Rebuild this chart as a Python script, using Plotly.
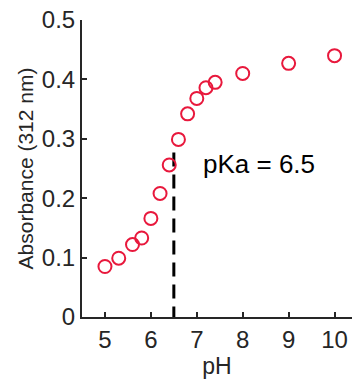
import plotly.graph_objects as go

pH = [5.0, 5.3, 5.6, 5.8, 6.0, 6.2, 6.4, 6.6, 6.8, 7.0, 7.2, 7.4, 8.0, 9.0, 10.0]
absorbance = [0.085, 0.099, 0.122, 0.133, 0.166, 0.208, 0.256, 0.299, 0.342, 0.368, 0.386, 0.395, 0.410, 0.427, 0.440]
pKa = 6.5
pKa_line_y = [0.277, 0.0]
x_ticks = [5, 6, 7, 8, 9, 10]
y_ticks = [0, 0.1, 0.2, 0.3, 0.4, 0.5]
y_tick_labels = ["0", "0.1", "0.2", "0.3", "0.4", "0.5"]

axis_color = "#262626"
font_family = "Liberation Sans, Arial, sans-serif"

fig = go.Figure()
fig.add_trace(go.Scatter(
    x=[pKa, pKa], y=pKa_line_y, mode="lines",
    line=dict(color="black", width=3, dash="14px,8px"),
    showlegend=False, hoverinfo="skip"))
fig.add_trace(go.Scatter(
    x=pH, y=absorbance, mode="markers",
    marker=dict(symbol="circle-open", size=13, color="#e8183c", line=dict(width=2, color="#e8183c")),
    showlegend=False))

fig.add_annotation(x=7.09, y=0.257, xref="x", yref="y", text="pKa = 6.5",
                   showarrow=False, xanchor="left", yanchor="middle",
                   font=dict(size=26, color="black", family=font_family))

fig.update_layout(
    width=352, height=379,
    margin=dict(l=82, r=0, t=20, b=62),
    paper_bgcolor="white", plot_bgcolor="white",
    font=dict(family=font_family, size=24, color=axis_color),
    xaxis=dict(range=[4.5, 10.38], tickvals=x_ticks, ticks="inside", ticklen=5,
               tickwidth=1.5, tickcolor=axis_color, showline=True, linecolor=axis_color,
               linewidth=2, showgrid=False, zeroline=False,
               tickfont=dict(size=24),
               title=dict(text="pH", font=dict(size=23), standoff=2)),
    yaxis=dict(range=[0, 0.5], tickvals=y_ticks, ticktext=y_tick_labels, ticks="inside",
               ticklen=5, tickwidth=1.5, tickcolor=axis_color, showline=True,
               linecolor=axis_color, linewidth=2, showgrid=False, zeroline=False,
               tickfont=dict(size=24),
               title=dict(text="Absorbance (312 nm)", font=dict(size=21), standoff=2)),
)

fig.write_html("out.html")
